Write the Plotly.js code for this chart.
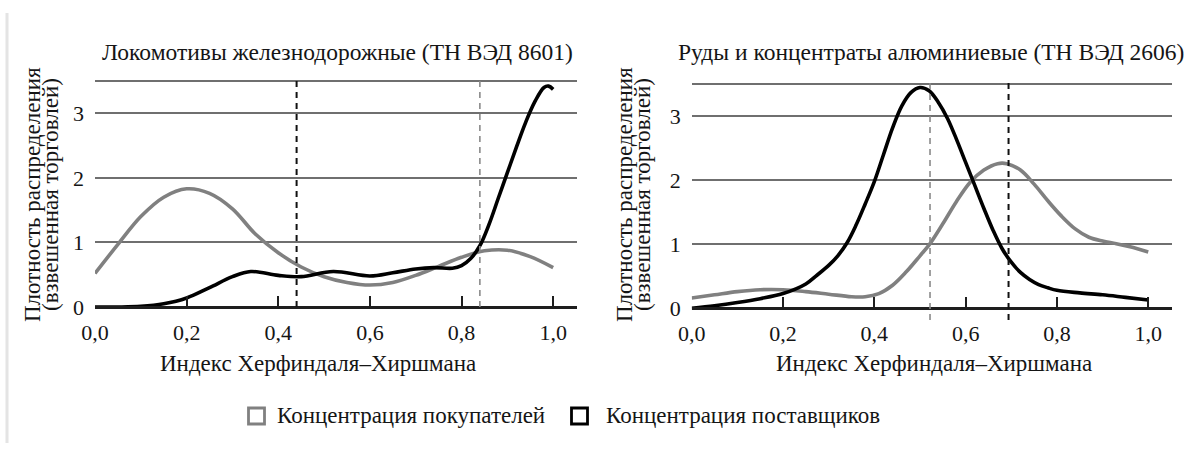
<!DOCTYPE html>
<html>
<head>
<meta charset="utf-8">
<script src="https://cdn.plot.ly/plotly-3.0.1.min.js"></script>
<style>
  html, body { margin: 0; padding: 0; background: #ffffff; }
  #chart { width: 1186px; height: 458px; }
</style>
</head>
<body>
<div id="chart"></div>
<script>
// Kernel density of the Herfindahl–Hirschman index (trade-weighted)

// Panel 1: railway locomotives (HS 8601)
const locoTitle = 'Локомотивы железнодорожные (ТН ВЭД 8601)';
const locoBuyersX = [0, 0.05, 0.10, 0.15, 0.20, 0.25, 0.30, 0.35, 0.40, 0.45, 0.50, 0.55, 0.60, 0.65, 0.70, 0.75, 0.80, 0.85, 0.90, 0.95, 1.00];
const locoBuyersY = [0.52, 0.97, 1.40, 1.70, 1.83, 1.76, 1.52, 1.13, 0.84, 0.62, 0.47, 0.38, 0.34, 0.38, 0.49, 0.63, 0.77, 0.87, 0.88, 0.78, 0.61];
const locoSuppliersX = [0, 0.05, 0.10, 0.15, 0.20, 0.25, 0.30, 0.34, 0.40, 0.45, 0.52, 0.60, 0.65, 0.70, 0.74, 0.78, 0.80, 0.82, 0.84, 0.86, 0.88, 0.90, 0.92, 0.94, 0.96, 0.98, 0.99, 1.00];
const locoSuppliersY = [0, 0, 0.01, 0.05, 0.14, 0.30, 0.47, 0.55, 0.49, 0.47, 0.55, 0.48, 0.53, 0.59, 0.61, 0.60, 0.64, 0.75, 0.95, 1.28, 1.68, 2.08, 2.48, 2.86, 3.18, 3.40, 3.42, 3.37];
const locoMeanSuppliers = 0.44;
const locoMeanBuyers = 0.84;

// Panel 2: aluminium ores and concentrates (HS 2606)
const oreTitle = 'Руды и концентраты алюминиевые (ТН ВЭД 2606)';
const oreBuyersX = [0, 0.05, 0.10, 0.15, 0.20, 0.25, 0.30, 0.35, 0.38, 0.41, 0.44, 0.47, 0.50, 0.52, 0.55, 0.58, 0.61, 0.64, 0.67, 0.69, 0.72, 0.75, 0.78, 0.81, 0.84, 0.87, 0.90, 0.93, 0.96, 1.00];
const oreBuyersY = [0.16, 0.21, 0.26, 0.29, 0.29, 0.26, 0.22, 0.18, 0.18, 0.23, 0.36, 0.57, 0.82, 0.99, 1.32, 1.67, 1.97, 2.16, 2.26, 2.26, 2.16, 1.94, 1.68, 1.44, 1.24, 1.11, 1.05, 1.01, 0.96, 0.88];
const oreSuppliersX = [0, 0.05, 0.10, 0.15, 0.20, 0.25, 0.275, 0.30, 0.32, 0.34, 0.36, 0.38, 0.40, 0.42, 0.44, 0.46, 0.48, 0.50, 0.52, 0.54, 0.56, 0.58, 0.60, 0.62, 0.64, 0.66, 0.68, 0.70, 0.72, 0.74, 0.76, 0.78, 0.80, 0.85, 0.90, 0.95, 1.00];
const oreSuppliersY = [0, 0.04, 0.09, 0.15, 0.23, 0.38, 0.52, 0.67, 0.82, 1.02, 1.30, 1.63, 1.98, 2.40, 2.82, 3.16, 3.37, 3.45, 3.40, 3.22, 2.97, 2.64, 2.28, 1.92, 1.56, 1.22, 0.93, 0.72, 0.56, 0.45, 0.37, 0.32, 0.28, 0.24, 0.21, 0.17, 0.13];
const oreMeanBuyers = 0.522;
const oreMeanSuppliers = 0.694;

// Axes
const xTickVals = [0, 0.2, 0.4, 0.6, 0.8, 1.0];
const yTickVals = [0, 1, 2, 3, 3.5];
const yTickText = ['0', '1', '2', '3', ''];
const xTitle = 'Индекс Херфиндаля–Хиршмана';
const yTitleLines = ['Плотность распределения', '(взвешенная торговлей)'];
const legendLabels = ['Концентрация покупателей', 'Концентрация поставщиков'];

// Styling
const FONT = 'Liberation Serif';
const TEXT = '#151515';
const GRAY = '#808080';
const BLACK = '#000000';
const GRID = '#6f6f6f';
const AXIS = '#1e1e1e';

const W = 1186, H = 458;
const px = v => v / W;
const py = v => 1 - v / H;

function curve(x, y, color, xa, ya) {
  return {
    type: 'scatter', mode: 'lines', x: x, y: y,
    xaxis: xa, yaxis: ya,
    line: { color: color, width: 3.6, shape: 'spline', smoothing: 1 },
    hoverinfo: 'skip', showlegend: false
  };
}

const data = [
  curve(locoBuyersX, locoBuyersY, GRAY, 'x', 'y'),
  curve(locoSuppliersX, locoSuppliersY, BLACK, 'x', 'y'),
  curve(oreBuyersX, oreBuyersY, GRAY, 'x2', 'y2'),
  curve(oreSuppliersX, oreSuppliersY, BLACK, 'x2', 'y2')
];

function xAxis(domain, pos) {
  return {
    domain: domain, range: [0, 1.052], anchor: 'free', position: pos,
    showline: true, linecolor: AXIS, linewidth: 2.5,
    ticks: 'inside', ticklen: 10, tickwidth: 2, tickcolor: AXIS,
    tickvals: xTickVals, tickformat: '.1f', ticklabelstandoff: 5,
    tickfont: { family: FONT, size: 22, color: TEXT },
    showgrid: false, zeroline: false, fixedrange: true
  };
}
function yAxis(domain, anchor) {
  return {
    domain: domain, range: [-0.06, 3.56], anchor: anchor,
    tickvals: yTickVals, ticktext: yTickText, ticks: '',
    ticklabelstandoff: 10,
    tickfont: { family: FONT, size: 22, color: TEXT },
    showgrid: true, gridcolor: GRID, gridwidth: 2,
    showline: false, zeroline: false, fixedrange: true
  };
}

// left panel: x 0 at 95px, 1.052 at 577px; y -0.06 at 310.9px, 3.56 at 77.1px
// right panel: x 0 at 691.7px, 1.052 at 1172px; y -0.06 at 312.1px, 3.56 at 80.5px
const layout = {
  width: W, height: H,
  margin: { l: 0, r: 0, t: 0, b: 0, pad: 0 },
  paper_bgcolor: '#ffffff', plot_bgcolor: '#ffffff',
  separators: ', ',
  showlegend: false,
  font: { family: FONT, color: TEXT },
  xaxis: xAxis([px(95), px(577)], py(307)),
  yaxis: yAxis([py(310.9), py(77.1)], 'x'),
  xaxis2: xAxis([px(691.7), px(1172)], py(308.3)),
  yaxis2: yAxis([py(312.1), py(80.5)], 'x2'),
  shapes: [],
  annotations: []
};

function vline(xref, xv, color, width, yTop, yBottom) {
  return {
    type: 'line', xref: xref, yref: 'paper',
    x0: xv, x1: xv, y0: py(yBottom), y1: py(yTop),
    line: { color: color, width: width, dash: '6px,5px' }
  };
}
layout.shapes.push(
  vline('x', locoMeanSuppliers, '#111111', 2, 76.5, 307),
  vline('x', locoMeanBuyers, '#8a8a8a', 1.6, 76.5, 307),
  vline('x2', oreMeanBuyers, '#8a8a8a', 1.6, 78.5, 320),
  vline('x2', oreMeanSuppliers, '#111111', 2, 78.5, 320)
);

// thin frame edge on the left
layout.shapes.push({
  type: 'line', xref: 'paper', yref: 'paper',
  x0: px(7), x1: px(7), y0: py(443), y1: py(13),
  line: { color: '#e4e4e4', width: 3 }
});

// legend keys (open squares)
function key(x0, color) {
  return {
    type: 'rect', xref: 'paper', yref: 'paper',
    x0: px(x0), x1: px(x0 + 16), y0: py(424), y1: py(408),
    line: { color: color, width: 2.8 }, fillcolor: '#ffffff'
  };
}
layout.shapes.push(key(248.5, GRAY), key(571.5, BLACK));

function label(text, x, y, size, opts) {
  return Object.assign({
    text: text, xref: 'paper', yref: 'paper', x: px(x), y: py(y),
    showarrow: false, xanchor: 'center', yanchor: 'middle',
    font: { family: FONT, size: size, color: TEXT }
  }, opts || {});
}

layout.annotations.push(
  label(locoTitle, 337, 52, 23.5),
  label(oreTitle, 931, 52, 23.5),
  label(xTitle, 318, 363, 23),
  label(xTitle, 934, 363, 23),
  label(yTitleLines[0], 33, 195, 23, { textangle: -90 }),
  label(yTitleLines[1], 51, 195, 23, { textangle: -90 }),
  label(yTitleLines[0], 625, 195, 23, { textangle: -90 }),
  label(yTitleLines[1], 643, 195, 23, { textangle: -90 }),
  label(legendLabels[0], 275, 415, 23, { xanchor: 'left' }),
  label(legendLabels[1], 604, 415, 23, { xanchor: 'left' })
);

Plotly.newPlot('chart', data, layout, { displayModeBar: false, staticPlot: true });
</script>
</body>
</html>
